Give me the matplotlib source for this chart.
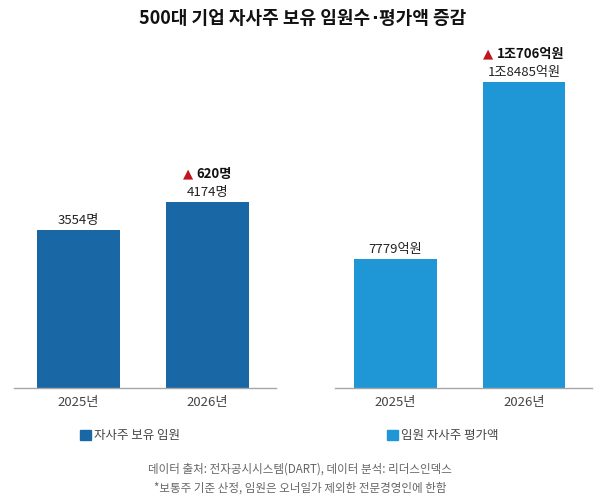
import matplotlib
matplotlib.use("Agg")
import matplotlib.pyplot as plt

plt.rcParams['font.family'] = ['Noto Sans CJK KR', 'DejaVu Sans']

years = ["2025년", "2026년"]
holders = [3554, 4174]          # 명
values = [7779, 18485]          # 억원
holder_legend = "자사주 보유 임원"
value_legend = "임원 자사주 평가액"
title_parts = ["500대 기업 자사주 보유 임원수", "·", "평가액 증감"]
footer1 = "데이터 출처: 전자공시시스템(DART), 데이터 분석: 리더스인덱스"
footer2 = "*보통주 기준 산정, 임원은 오너일가 제외한 전문경영인에 한함"

c_left = "#1a67a6"
c_right = "#1f96d5"
c_red = "#c0161f"

W, H = 605, 501
fig = plt.figure(figsize=(W / 100, H / 100), dpi=100)


def fmt_eok(v):
    if v >= 10000:
        return f"{v // 10000}조{v % 10000}억원"
    return f"{v}억원"


def fmt_people(v):
    return f"{v}명"


def make_axes(x0, x1, ytop, ybot):
    return fig.add_axes([x0 / W, 1 - ybot / H, (x1 - x0) / W, (ybot - ytop) / H])


axL = make_axes(14, 276, 60, 388)
axR = make_axes(335, 592, 60, 388)

panels = [
    (axL, holders, c_left, fmt_people, 7370, -0.5, 1.53),
    (axR, values, c_right, fmt_eok, 19818, -0.47, 1.53),
]

texts_to_fix = []
for ax, vals, col, fmt, ytop, xl0, xl1 in panels:
    x = list(range(len(vals)))
    ax.bar(x, vals, width=0.64, color=col, zorder=2)
    ax.set_xlim(xl0, xl1)
    ax.set_ylim(0, ytop)
    for s in ["top", "right", "left"]:
        ax.spines[s].set_visible(False)
    ax.spines["bottom"].set_color("#a6a6a6")
    ax.spines["bottom"].set_linewidth(1.0)
    ax.set_yticks([])
    ax.set_xticks(x)
    ax.set_xticklabels(years, fontsize=9.5, color="#444444")
    ax.tick_params(axis="x", length=0, pad=6)
    for xi, v in zip(x, vals):
        ax.annotate(fmt(v), (xi, v), xytext=(0, 2.2), textcoords="offset points",
                    ha="center", va="bottom", fontsize=9.5, color="#222222")
    diff = vals[1] - vals[0]
    t = ax.annotate(fmt(diff), (x[1], vals[1]), xytext=(4.7, 15.5),
                    textcoords="offset points", ha="center", va="bottom",
                    fontsize=9.5, fontweight="bold", color="#111111")
    texts_to_fix.append(t)

# legends
for (lx, label, col) in [(80, holder_legend, c_left), (387, value_legend, c_right)]:
    fig.patches.append(plt.Rectangle((lx / W, 1 - 440 / H), 11 / W, 10.5 / H,
                                     transform=fig.transFigure, color=col))
    fig.text((lx + 14) / W, 1 - 435 / H, label, fontsize=9, color="#444444",
             ha="left", va="center")

fig.text(0.496, 1 - 469 / H, footer1, fontsize=8.3, color="#666666",
         ha="center", va="center")
fig.text(0.496, 1 - 488 / H, footer2, fontsize=8.3, color="#666666",
         ha="center", va="center")

# title in parts so the middle dot stays narrow
fig.canvas.draw()
r = fig.canvas.get_renderer()
title_y = 1 - 19 / H
fams = [None, ['DejaVu Sans'], None]
objs = []
for part, fam in zip(title_parts, fams):
    kw = dict(fontsize=13, fontweight="bold", ha="left", va="center", color="#111111")
    if fam:
        kw["family"] = fam
    objs.append(fig.text(0, title_y, part, **kw))
widths = [o.get_window_extent(r).width for o in objs]
gap = 1.0
total = sum(widths) + gap * 2
xcur = (fig.bbox.width - total) / 2
for o, w in zip(objs, widths):
    o.set_x(xcur / fig.bbox.width)
    xcur += w + gap

# red triangles next to bold increase labels
for t in texts_to_fix:
    bb = t.get_window_extent(r)
    x_left = bb.x0 - 3
    y_mid = (bb.y0 + bb.y1) / 2
    fig.text(x_left / fig.bbox.width, y_mid / fig.bbox.height, "▲",
             fontsize=9.5, color=c_red, ha="right", va="center",
             family=['DejaVu Sans'])

fig.savefig("out.png", dpi=100)
